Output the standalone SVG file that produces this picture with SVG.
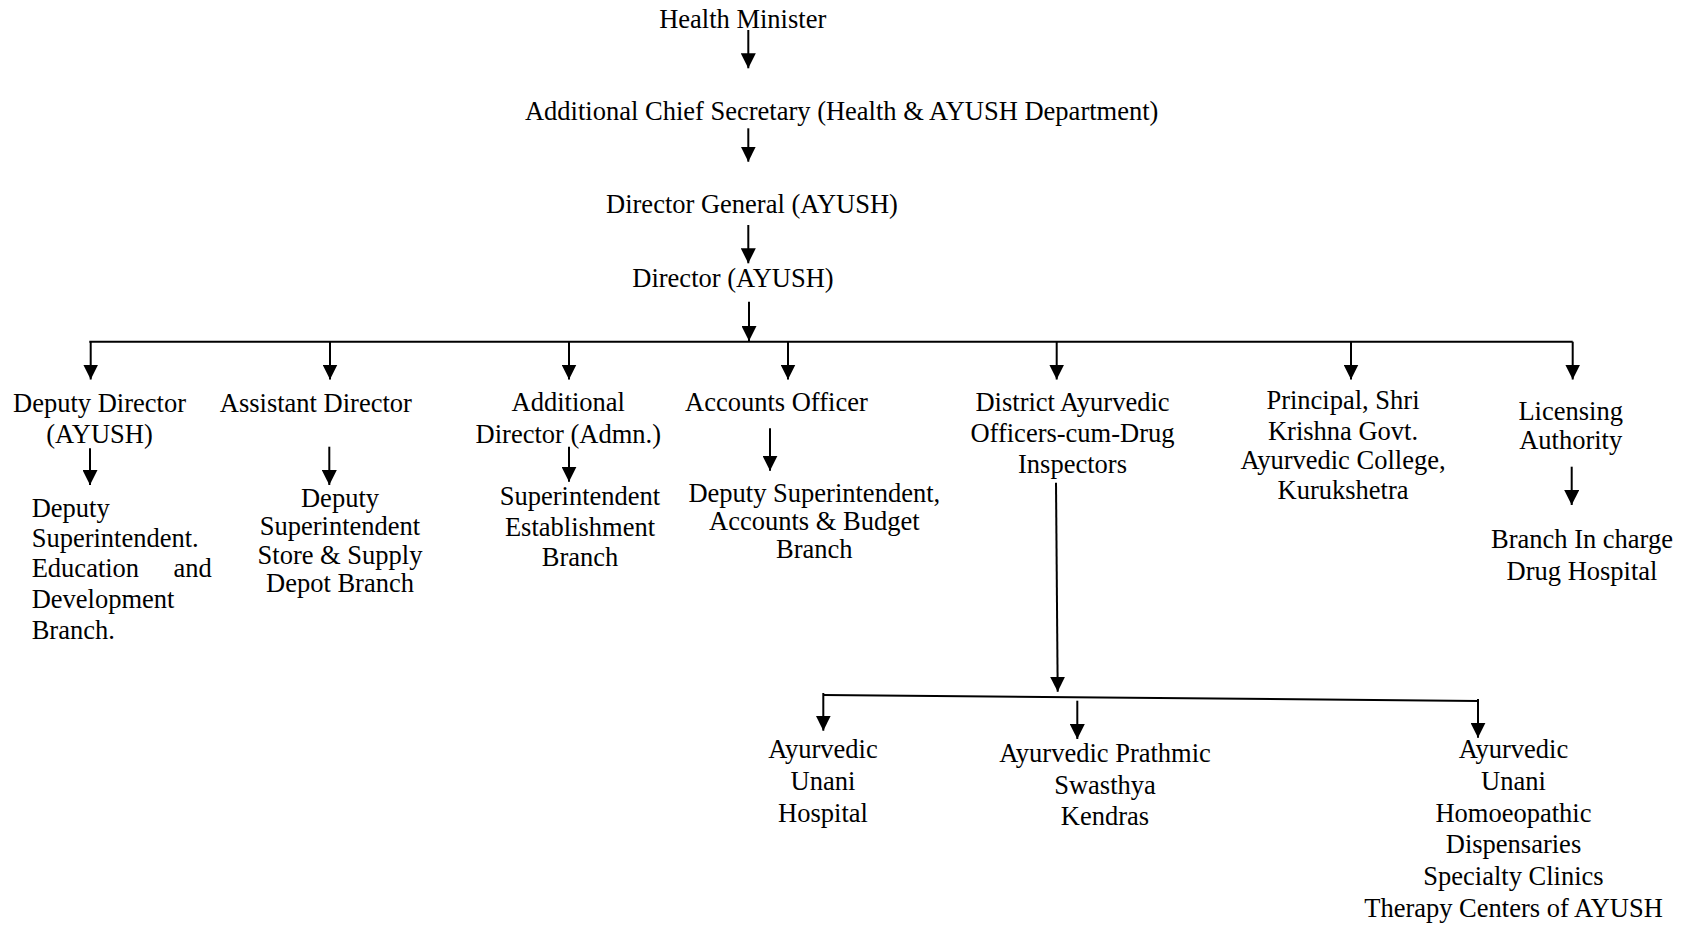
<svg xmlns="http://www.w3.org/2000/svg" width="1688" height="926" viewBox="0 0 1688 926">
<style>
text{font-family:"Liberation Serif","Times New Roman",serif;font-size:26.5px;fill:#000}
.c{text-anchor:middle}
.ln{stroke:#000;stroke-width:2;fill:none}
.ar{stroke:#000;stroke-width:2;fill:none;marker-end:url(#ah)}
</style>
<defs>
<marker id="ah" viewBox="0 0 15 15" refX="15" refY="7.5" markerWidth="15" markerHeight="15" markerUnits="userSpaceOnUse" orient="auto">
<path d="M0,0 L15,7.5 L0,15 z" fill="#000"/>
</marker>
</defs>
<rect width="1688" height="926" fill="#fff"/>
<g id="connectors">
<line class="ar" x1="748.3" y1="30" x2="748.3" y2="68.3"/>
<line class="ar" x1="748.3" y1="128.3" x2="748.3" y2="161.7"/>
<line class="ar" x1="748.3" y1="225" x2="748.3" y2="263.3"/>
<line class="ar" x1="749" y1="301.7" x2="749" y2="341"/>
<line class="ln" x1="89.3" y1="341.7" x2="1572.7" y2="341.7"/>
<line class="ar" x1="90.7" y1="341.7" x2="90.7" y2="379.5"/>
<line class="ar" x1="330" y1="341.7" x2="330" y2="379.5"/>
<line class="ar" x1="569" y1="341.7" x2="569" y2="379.5"/>
<line class="ar" x1="788" y1="341.7" x2="788" y2="379.5"/>
<line class="ar" x1="1056.7" y1="341.7" x2="1056.7" y2="379.5"/>
<line class="ar" x1="1351" y1="341.7" x2="1351" y2="379.5"/>
<line class="ar" x1="1572.7" y1="341.7" x2="1572.7" y2="379.5"/>
<line class="ar" x1="90" y1="448.3" x2="90" y2="485"/>
<line class="ar" x1="329.3" y1="446.7" x2="329.3" y2="485"/>
<line class="ar" x1="569" y1="446.7" x2="569" y2="481.7"/>
<line class="ar" x1="770" y1="428.3" x2="770" y2="470.7" stroke-width="2.5"/>
<line class="ar" x1="1571.7" y1="466.7" x2="1571.7" y2="505"/>
<line class="ar" x1="1056" y1="482.7" x2="1057.7" y2="691.7"/>
<line class="ln" x1="823.3" y1="695" x2="1478" y2="701"/>
<line class="ar" x1="823.3" y1="693" x2="823.3" y2="730.7"/>
<line class="ar" x1="1077.3" y1="700.7" x2="1077.3" y2="739"/>
<line class="ar" x1="1478" y1="699" x2="1478" y2="737.7"/>
</g>
<g id="health-minister"><text class="c" x="742.7" y="28.3">Health Minister</text></g>
<g id="acs"><text class="c" x="841.7" y="120">Additional Chief Secretary (Health &amp; AYUSH Department)</text></g>
<g id="director-general"><text class="c" x="752" y="212.7">Director General (AYUSH)</text></g>
<g id="director"><text class="c" x="733" y="286.7">Director (AYUSH)</text></g>
<g id="deputy-director"><text class="c"><tspan x="99.5" y="411.7">Deputy Director</tspan><tspan x="99.5" y="443.3">(AYUSH)</tspan></text></g>
<g id="dy-supdt-education"><text><tspan x="31.7" y="516.7">Deputy</tspan><tspan x="31.7" y="546.7">Superintendent.</tspan><tspan x="31.7" y="577.3">Education</tspan><tspan x="173.4" y="577.3">and</tspan><tspan x="31.7" y="608.3">Development</tspan><tspan x="31.7" y="639">Branch.</tspan></text></g>
<g id="assistant-director"><text class="c" x="315.8" y="411.7">Assistant Director</text></g>
<g id="dy-supdt-store"><text class="c"><tspan x="340" y="506.7">Deputy</tspan><tspan x="340" y="535">Superintendent</tspan><tspan x="340" y="564">Store &amp; Supply</tspan><tspan x="340" y="592.3">Depot Branch</tspan></text></g>
<g id="additional-director"><text class="c"><tspan x="568.3" y="410.7">Additional</tspan><tspan x="568.3" y="442.7">Director (Admn.)</tspan></text></g>
<g id="supdt-establishment"><text class="c"><tspan x="580" y="505">Superintendent</tspan><tspan x="580" y="536">Establishment</tspan><tspan x="580" y="566">Branch</tspan></text></g>
<g id="accounts-officer"><text x="685" y="410.7">Accounts Officer</text></g>
<g id="dy-supdt-accounts"><text class="c"><tspan x="814.3" y="501.7">Deputy Superintendent,</tspan><tspan x="814.3" y="530">Accounts &amp; Budget</tspan><tspan x="814.3" y="558.3">Branch</tspan></text></g>
<g id="district-officers"><text class="c"><tspan x="1072.5" y="410.7">District Ayurvedic</tspan><tspan x="1072.5" y="441.7">Officers-cum-Drug</tspan><tspan x="1072.5" y="473.3">Inspectors</tspan></text></g>
<g id="principal"><text class="c"><tspan x="1343" y="409.3">Principal, Shri</tspan><tspan x="1343" y="440">Krishna Govt.</tspan><tspan x="1343" y="469.3">Ayurvedic College,</tspan><tspan x="1343" y="499.3">Kurukshetra</tspan></text></g>
<g id="licensing-authority"><text class="c"><tspan x="1570.7" y="420">Licensing</tspan><tspan x="1570.7" y="449.3">Authority</tspan></text></g>
<g id="branch-incharge"><text class="c"><tspan x="1582" y="548.3">Branch In charge</tspan><tspan x="1582" y="580">Drug Hospital</tspan></text></g>
<g id="au-hospital"><text class="c"><tspan x="823" y="758.3">Ayurvedic</tspan><tspan x="823" y="790">Unani</tspan><tspan x="823" y="821.7">Hospital</tspan></text></g>
<g id="aps-kendras"><text class="c"><tspan x="1105" y="761.7">Ayurvedic Prathmic</tspan><tspan x="1105" y="794">Swasthya</tspan><tspan x="1105" y="825">Kendras</tspan></text></g>
<g id="dispensaries"><text class="c"><tspan x="1513.5" y="758.3">Ayurvedic</tspan><tspan x="1513.5" y="790">Unani</tspan><tspan x="1513.5" y="821.7">Homoeopathic</tspan><tspan x="1513.5" y="853.3">Dispensaries</tspan><tspan x="1513.5" y="885">Specialty Clinics</tspan><tspan x="1513.5" y="916.7">Therapy Centers of AYUSH</tspan></text></g>
</svg>
